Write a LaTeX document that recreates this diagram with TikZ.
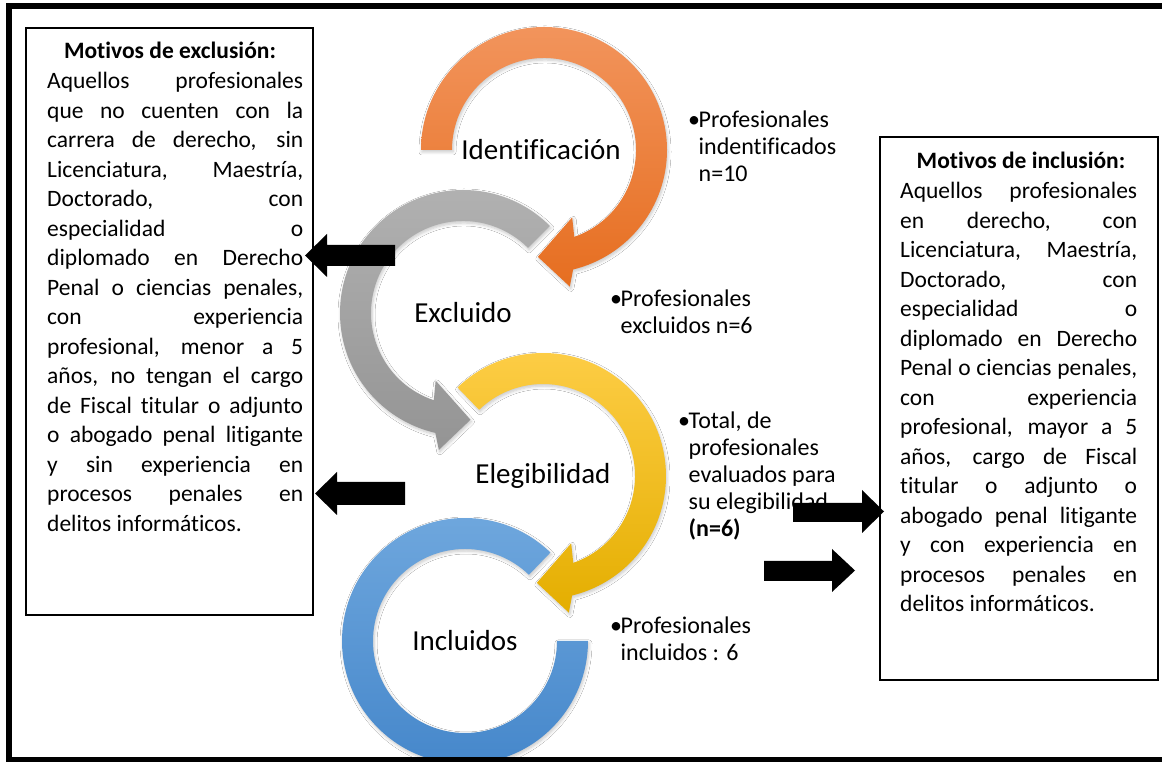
\documentclass[tikz,border=0pt]{standalone}
\usepackage{fontspec}
\setmainfont[Ligatures=NoCommon]{Carlito}
\usetikzlibrary{shadows.blur}
\definecolor{orTop}{RGB}{242,148,92}
\definecolor{orBot}{RGB}{230,110,32}
\definecolor{grTop}{RGB}{178,178,178}
\definecolor{grBot}{RGB}{148,148,148}
\definecolor{yeTop}{RGB}{254,206,72}
\definecolor{yeBot}{RGB}{228,174,0}
\definecolor{blTop}{RGB}{112,168,222}
\definecolor{blBot}{RGB}{68,134,202}
\newcommand\jl[2][256pt]{\leavevmode\hbox to #1{\spaceskip=0.23em plus 1fil\relax #2}}
\newcommand\natsp{\spaceskip=0pt\xspaceskip=0pt\relax}
\begin{document}
\begin{tikzpicture}[x=1pt,y=1pt,
  bodytext/.style={font=\fontsize{23.5}{29.5}\selectfont, inner sep=0pt, align=left},
  titletext/.style={font=\fontsize{23.5}{29.5}\selectfont\bfseries, inner sep=0pt},
  bullettext/.style={font=\fontsize{24}{27}\selectfont, inner sep=0pt, align=left, anchor=base west, text width=190pt},
  ringlabel/.style={font=\fontsize{29}{34}\selectfont, inner sep=0pt},
  boxframe/.style={draw=black, line width=2.3pt, fill=white},
  blockarrow/.style={fill=black, draw=none},
  ring/.style={draw=none, blur shadow={shadow xshift=1pt, shadow yshift=-2pt, shadow blur radius=3pt, shadow blur steps=6, shadow opacity=22}}]
\useasboundingbox (0,0) rectangle (1162,762);
\fill[white] (0,0) rectangle (1162,762);

% ---- circular arrows ----
\begin{scope}[shift={(544,612)}]
\path[ring, top color=orTop, bottom color=orBot]
  (180:123) arc[start angle=180, end angle=-76.3, radius=123]
  -- (-79.3:139) -- (-93.3:107) -- (-67.3:73) -- (-70.8:92)
  arc[start angle=-70.8, end angle=180, radius=92] -- cycle;
\end{scope}
\begin{scope}[shift={(463,449)}]
\path[ring, top color=grTop, bottom color=grBot]
  (45:123) arc[start angle=45, end angle=257, radius=123]
  -- (260:139) -- (274:107) -- (248:73) -- (251.5:92)
  arc[start angle=251.5, end angle=45, radius=92] -- cycle;
\end{scope}
\begin{scope}[shift={(543,286)}]
\path[ring, top color=yeTop, bottom color=yeBot]
  (134:123) arc[start angle=134, end angle=-76.3, radius=123]
  -- (-79.3:139) -- (-93.3:107) -- (-67.3:73) -- (-70.8:92)
  arc[start angle=-70.8, end angle=134, radius=92] -- cycle;
\end{scope}
\begin{scope}[shift={(465,121)}]
\path[ring, top color=blTop, bottom color=blBot]
  (46:123) arc[start angle=46, end angle=360, radius=123]
  -- (0:92) arc[start angle=360, end angle=46, radius=92] -- cycle;
\end{scope}

\node[ringlabel] (ident) at (541,612) {Identificación};
\node[ringlabel] (excl) at (463,449) {Excluido};
\node[ringlabel] (eleg) at (543,286) {Elegibilidad};
\node[ringlabel] (incl) at (465,121) {Incluidos};

% ---- bullet texts ----
\node[bullettext] (b1) at (688,634) {\natsp\makebox[10.5pt][l]{•}Profesionales\\\hspace*{10.5pt}indentificados\\\hspace*{10.5pt}n=10};
\node[bullettext] (b2) at (610,455) {\natsp\makebox[10.5pt][l]{•}Profesionales\\\hspace*{10.5pt}excluidos n=6};
\node[bullettext] (b3) at (678,333) {\natsp\makebox[10.5pt][l]{•}Total, de\\\hspace*{10.5pt}profesionales\\\hspace*{10.5pt}evaluados para\\\hspace*{10.5pt}su elegibilidad\\\hspace*{10.5pt}\textbf{(n=6)}};
\node[bullettext] (b4) at (610,128) {\natsp\makebox[10.5pt][l]{•}Profesionales\\\hspace*{10.5pt}incluidos : 6};

% ---- boxes ----
\node[boxframe, minimum width=287pt, minimum height=587pt, inner sep=0pt] (exbox) at (169.5,440.5) {};
\node[boxframe, minimum width=278pt, minimum height=543pt, inner sep=0pt] (inbox) at (1019,353.5) {};

\node[titletext, anchor=base] (extitle) at (170,703) {Motivos de exclusión:};
\node[bodytext, anchor=base west, text width=256pt] (exbody) at (47,673) {\natsp
\jl{Aquellos profesionales}\\
\jl{que no cuenten con la}\\
\jl{carrera de derecho, sin}\\
\jl{Licenciatura, Maestría,}\\
\jl{Doctorado, con}\\
\jl{especialidad o}\\
\jl{diplomado en Derecho}\\
\jl{Penal o ciencias penales,}\\
\jl{con experiencia}\\
\jl{profesional, menor a 5}\\
\jl{años, no tengan el cargo}\\
\jl{de Fiscal titular o adjunto}\\
\jl{o abogado penal litigante}\\
\jl{y sin experiencia en}\\
\jl{procesos penales en}\\
delitos informáticos.};

\node[titletext, anchor=base] (intitle) at (1021,593) {Motivos de inclusión:};
\node[bodytext, anchor=base west, text width=237pt] (inbody) at (900,563) {\natsp
\jl[237pt]{Aquellos profesionales}\\
\jl[237pt]{en derecho, con}\\
\jl[237pt]{Licenciatura, Maestría,}\\
\jl[237pt]{Doctorado, con}\\
\jl[237pt]{especialidad o}\\
\jl[237pt]{diplomado en Derecho}\\
\jl[237pt]{Penal o ciencias penales,}\\
\jl[237pt]{con experiencia}\\
\jl[237pt]{profesional, mayor a 5}\\
\jl[237pt]{años, cargo de Fiscal}\\
\jl[237pt]{titular o adjunto o}\\
\jl[237pt]{abogado penal litigante}\\
\jl[237pt]{y con experiencia en}\\
\jl[237pt]{procesos penales en}\\
delitos informáticos.};

% ---- block arrows ----
\path[blockarrow] (395,517) -- (327,517) -- (327,528) -- (305,506.5) -- (327,485) -- (327,496) -- (395,496) -- cycle;
\path[blockarrow] (405,280) -- (337,280) -- (337,290) -- (315,268.5) -- (337,247) -- (337,257) -- (405,257) -- cycle;
\path[blockarrow] (793,259) -- (862,259) -- (862,272) -- (884,250.5) -- (862,229) -- (862,240) -- (793,240) -- cycle;
\path[blockarrow] (764,201) -- (832,201) -- (832,213) -- (855,191.5) -- (832,170) -- (832,181) -- (764,181) -- cycle;

% ---- outer frame ----
\draw[line width=6pt] (1170,756) -- (8.5,756) -- (8.5,1.5) -- (1170,1.5);
\end{tikzpicture}
\end{document}
